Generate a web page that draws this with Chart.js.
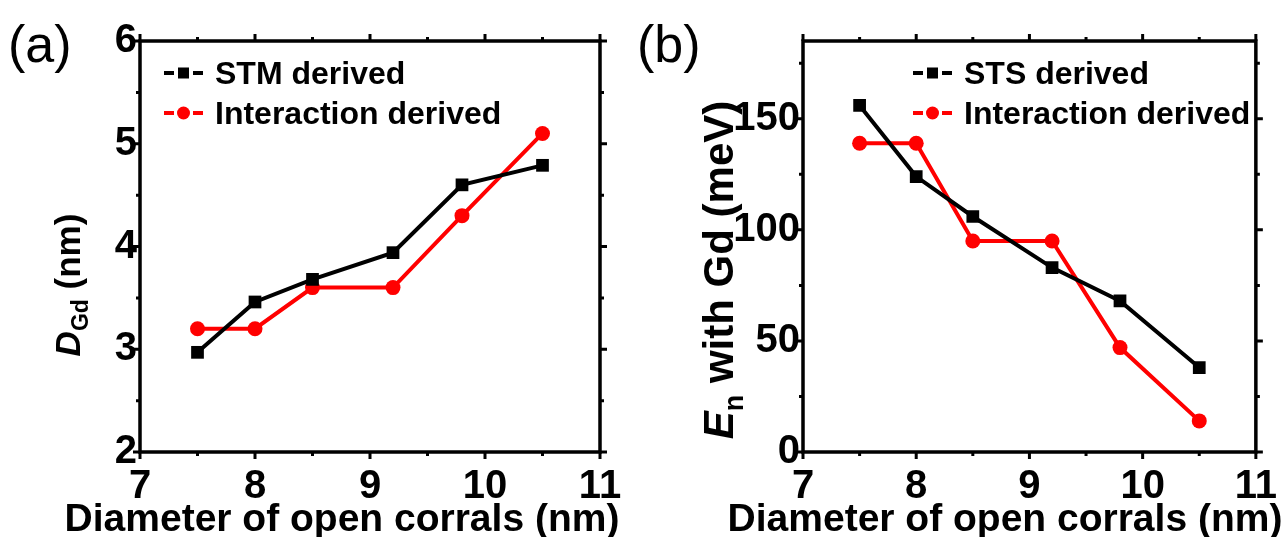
<!DOCTYPE html>
<html>
<head>
<meta charset="utf-8">
<script src="https://cdn.jsdelivr.net/npm/chart.js@4.4.1/dist/chart.umd.min.js"></script>
<style>
  html, body { margin: 0; padding: 0; background: #fff; }
  #wrap { position: relative; width: 1288px; height: 537px; overflow: hidden; }
  canvas { position: absolute; top: 0; }
  #chartA { left: 0; }
  #chartB { left: 640px; }
</style>
</head>
<body>
<div id="wrap">
  <canvas id="chartA" width="640" height="537"></canvas>
  <canvas id="chartB" width="648" height="537"></canvas>
</div>
<script>
/* ---------- data ---------- */
const diameters = [7.5, 8.0, 8.5, 9.2, 9.8, 10.5];
const dStm = [2.97, 3.46, 3.68, 3.94, 4.60, 4.79];
const dInteraction = [3.20, 3.20, 3.60, 3.60, 4.30, 5.10];
const eSts = [156, 124, 106, 83, 68, 38];
const eInteraction = [139, 139, 95, 95, 47, 14];
const xTickVals = [7, 8, 9, 10, 11];
const yTickValsA = [2, 3, 4, 5, 6];
const yTickValsB = [0, 50, 100, 150];

const FONT = "'Liberation Sans', Arial, sans-serif";
const RED = "#ff0000";
const pts = (ys) => diameters.map((x, i) => ({ x, y: ys[i] }));

/* ---------- frame, ticks, legend, titles ---------- */
const decoPlugin = {
  id: "deco",
  afterDraw(chart, args, o) {
    const ctx = chart.ctx, ca = chart.chartArea;
    const xs = chart.scales.x, ys = chart.scales.y;
    ctx.save();
    ctx.strokeStyle = "#000";
    ctx.lineWidth = 3.5;
    ctx.lineCap = "butt";
    ctx.strokeRect(ca.left, ca.top, ca.right - ca.left, ca.bottom - ca.top);

    // outward ticks on all four sides, major + minor
    ctx.lineWidth = 3;
    ctx.beginPath();
    for (let v = xs.min; v <= xs.max + 1e-9; v += 0.5) {
      const px = xs.getPixelForValue(v), len = Number.isInteger(v) ? 7 : 4;
      ctx.moveTo(px, ca.bottom); ctx.lineTo(px, ca.bottom + len);
      ctx.moveTo(px, ca.top); ctx.lineTo(px, ca.top - len);
    }
    for (let v = ys.min; v <= ys.max + 1e-9; v += o.yMinor) {
      const py = ys.getPixelForValue(v);
      const major = Math.abs(v / o.yMajor - Math.round(v / o.yMajor)) < 1e-6;
      const len = major ? 7 : 4;
      ctx.moveTo(ca.left, py); ctx.lineTo(ca.left - len, py);
      ctx.moveTo(ca.right, py); ctx.lineTo(ca.right + len, py);
    }
    ctx.stroke();

    // panel letter
    ctx.fillStyle = "#000";
    ctx.font = "52px " + FONT;
    ctx.textBaseline = "alphabetic";
    ctx.textAlign = "left";
    ctx.fillText(o.panel, o.panelX, o.panelY);

    // legend: -■- / -●- then label
    o.legend.forEach((it, i) => {
      const y = o.legY + i * 40, x = o.legX;
      ctx.strokeStyle = it.color; ctx.fillStyle = it.color; ctx.lineWidth = 4;
      ctx.beginPath();
      ctx.moveTo(x, y); ctx.lineTo(x + 10, y);
      ctx.moveTo(x + 29, y); ctx.lineTo(x + 39, y);
      ctx.stroke();
      if (it.style === "rect") ctx.fillRect(x + 14, y - 5.5, 11, 11);
      else { ctx.beginPath(); ctx.arc(x + 19.5, y, 6.5, 0, Math.PI * 2); ctx.fill(); }
      ctx.fillStyle = "#000";
      ctx.font = "bold 32px " + FONT;
      ctx.fillText(it.text, x + 51, y + 11);
    });

    // x title
    ctx.font = "bold 39px " + FONT;
    ctx.textAlign = "center";
    ctx.fillText("Diameter of open corrals (nm)", o.xTitleX, o.xTitleY);

    // y title (rotated, mixed styles)
    ctx.translate(o.yTitleX, o.yTitleY);
    ctx.rotate(-Math.PI / 2);
    ctx.textAlign = "left";
    let total = 0;
    o.yTitle.forEach(p => { ctx.font = p.font; total += ctx.measureText(p.t).width; });
    let cx = -total / 2;
    o.yTitle.forEach(p => {
      ctx.font = p.font;
      ctx.fillText(p.t, cx, p.dy || 0);
      cx += ctx.measureText(p.t).width;
    });
    ctx.restore();
  }
};

function makeChart(id, cfg) {
  return new Chart(document.getElementById(id), {
    type: "line",
    data: {
      datasets: [
        { data: pts(cfg.black), borderColor: "#000", backgroundColor: "#000", borderWidth: 4,
          pointStyle: "rect", pointRadius: 9, pointHoverRadius: 9, pointBorderWidth: 0 },
        { data: pts(cfg.red), borderColor: RED, backgroundColor: RED, borderWidth: 4,
          pointStyle: "circle", pointRadius: 7.5, pointHoverRadius: 7.5, pointBorderWidth: 0 }
      ]
    },
    options: {
      responsive: false, animation: false,
      layout: { padding: { top: 41, right: cfg.padRight, left: 0, bottom: 0 } },
      plugins: { legend: { display: false }, tooltip: { enabled: false }, deco: cfg.deco },
      scales: {
        x: {
          type: "linear", min: 7, max: 11,
          afterBuildTicks: (s) => { s.ticks = xTickVals.map(v => ({ value: v })); },
          afterFit: (s) => { s.height = 85; },
          grid: { display: false, drawTicks: false }, border: { display: false },
          ticks: { color: "#000", padding: 11, maxRotation: 0, font: { family: FONT, size: 40, weight: "bold" } }
        },
        y: {
          type: "linear", min: cfg.yMin, max: cfg.yMax,
          afterBuildTicks: (s) => { s.ticks = cfg.yTicks.map(v => ({ value: v })); },
          afterFit: (s) => { s.width = cfg.yWidth; },
          grid: { display: false, drawTicks: false }, border: { display: false },
          ticks: { color: "#000", padding: 3, font: { family: FONT, size: 40, weight: "bold" } }
        }
      }
    },
    plugins: [decoPlugin]
  });
}

makeChart("chartA", {
  black: dStm, red: dInteraction, yMin: 2, yMax: 6, yTicks: yTickValsA, yWidth: 140, padRight: 40,
  deco: {
    panel: "(a)", panelX: 8, panelY: 62, yMajor: 1, yMinor: 0.5,
    legX: 164, legY: 73,
    legend: [{ text: "STM derived", color: "#000", style: "rect" },
             { text: "Interaction derived", color: RED, style: "circle" }],
    xTitleX: 342, xTitleY: 531,
    yTitleX: 80, yTitleY: 285,
    yTitle: [{ t: "D", font: "italic bold 35px " + FONT },
             { t: "Gd", font: "bold 23px " + FONT, dy: 8 },
             { t: " (nm)", font: "bold 35px " + FONT }]
  }
});

makeChart("chartB", {
  black: eSts, red: eInteraction, yMin: 0, yMax: 185, yTicks: yTickValsB, yWidth: 163, padRight: 28,
  deco: {
    panel: "(b)", panelX: -3, panelY: 62, yMajor: 50, yMinor: 25,
    legX: 273, legY: 73,
    legend: [{ text: "STS derived", color: "#000", style: "rect" },
             { text: "Interaction derived", color: RED, style: "circle" }],
    xTitleX: 365, xTitleY: 531,
    yTitleX: 93, yTitleY: 270,
    yTitle: [{ t: "E", font: "italic bold 42px " + FONT },
             { t: "n", font: "bold 27px " + FONT, dy: 10 },
             { t: " with Gd (meV)", font: "bold 42px " + FONT }]
  }
});
</script>
</body>
</html>
